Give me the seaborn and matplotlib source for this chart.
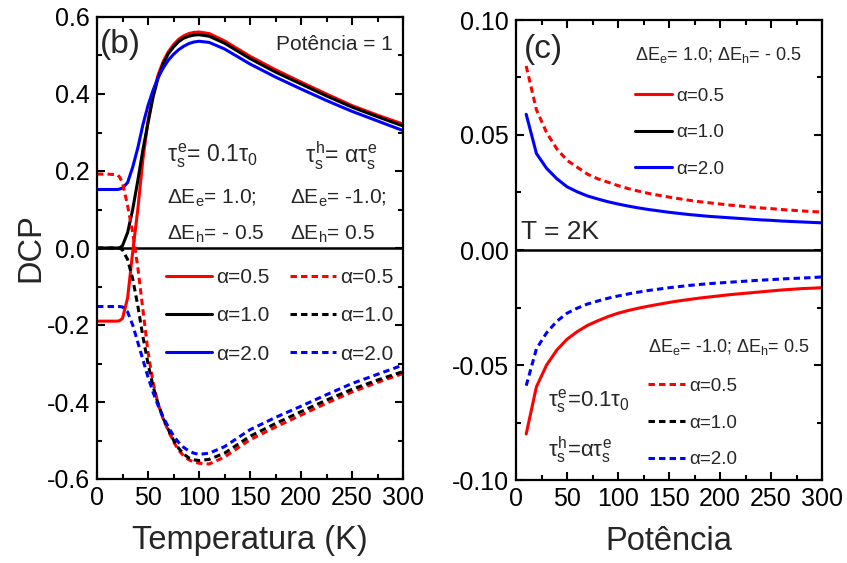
import matplotlib
matplotlib.use("Agg")
import matplotlib.pyplot as plt
from matplotlib.lines import Line2D
from matplotlib.ticker import MultipleLocator, FormatStrFormatter
import seaborn as sns
import pandas as pd

# ---------------- data: panel (b) ----------------
T = [0, 10, 20, 22, 25, 30, 35, 40, 45, 50, 55, 60, 65, 70, 75, 80, 85, 90, 95, 100,
     110, 125, 150, 175, 200, 225, 250, 275, 300]
red_solid_b = [-0.19, -0.19, -0.19, -0.189, -0.183, -0.13, -0.01, 0.10, 0.23, 0.33, 0.40,
               0.45, 0.485, 0.51, 0.528, 0.542, 0.551, 0.557, 0.56, 0.561, 0.557, 0.538,
               0.498, 0.463, 0.431, 0.40, 0.37, 0.345, 0.322]
black_solid_b = [0, 0, 0, 0.0, 0.006, 0.04, 0.10, 0.175, 0.255, 0.325, 0.392, 0.443,
                 0.479, 0.505, 0.522, 0.536, 0.545, 0.55, 0.553, 0.554, 0.55, 0.532,
                 0.492, 0.457, 0.426, 0.395, 0.366, 0.341, 0.317]
blue_solid_b = [0.152, 0.152, 0.152, 0.153, 0.156, 0.17, 0.21, 0.26, 0.32, 0.37, 0.41,
                0.443, 0.468, 0.488, 0.503, 0.515, 0.524, 0.531, 0.535, 0.537, 0.534,
                0.517, 0.478, 0.444, 0.413, 0.383, 0.355, 0.33, 0.305]
red_dash_b = [0.192, 0.192, 0.19, 0.185, 0.17, 0.11, 0.04, -0.05, -0.16, -0.27, -0.35,
              -0.405, -0.445, -0.475, -0.503, -0.525, -0.54, -0.55, -0.556, -0.559,
              -0.561, -0.543, -0.498, -0.465, -0.434, -0.403, -0.374, -0.349, -0.326]
black_dash_b = [0, 0, 0, 0, -0.005, -0.03, -0.08, -0.15, -0.23, -0.30, -0.36, -0.405,
                -0.443, -0.472, -0.499, -0.52, -0.535, -0.545, -0.55, -0.552, -0.549,
                -0.533, -0.489, -0.456, -0.425, -0.395, -0.367, -0.343, -0.321]
blue_dash_b = [-0.152, -0.152, -0.152, -0.152, -0.153, -0.166, -0.2, -0.245, -0.29,
               -0.335, -0.375, -0.41, -0.44, -0.465, -0.488, -0.505, -0.518, -0.527,
               -0.533, -0.536, -0.533, -0.516, -0.472, -0.44, -0.411, -0.381, -0.352,
               -0.328, -0.304]

# ---------------- data: panel (c) ----------------
P = [10, 20, 30, 40, 50, 60, 70, 80, 90, 100, 110, 120, 130, 140, 150, 160, 170, 180,
     190, 200, 210, 220, 230, 240, 250, 260, 270, 280, 290, 300]
red_dash_c = [0.080, 0.061, 0.051, 0.044, 0.039, 0.036, 0.033, 0.031, 0.0295, 0.028,
              0.0267, 0.0256, 0.0246, 0.0238, 0.023, 0.0223, 0.0216, 0.021, 0.0205,
              0.020, 0.0195, 0.0191, 0.0187, 0.0183, 0.018, 0.0176, 0.0173, 0.017,
              0.0167, 0.0165]
blue_solid_c = [0.059, 0.042, 0.0355, 0.031, 0.0275, 0.0253, 0.0235, 0.0222, 0.021,
                0.020, 0.0191, 0.0183, 0.0176, 0.017, 0.0164, 0.0159, 0.0154, 0.015,
                0.0146, 0.0143, 0.014, 0.0137, 0.0134, 0.0131, 0.0129, 0.0126, 0.0124,
                0.0122, 0.012, 0.0118]
red_solid_c = [-0.080, -0.0595, -0.050, -0.0435, -0.0388, -0.0355, -0.0328, -0.0308,
               -0.029, -0.0275, -0.0263, -0.0253, -0.0244, -0.0236, -0.0228, -0.0221,
               -0.0215, -0.0209, -0.0204, -0.0199, -0.0194, -0.019, -0.0186, -0.0182,
               -0.0178, -0.0174, -0.0171, -0.0168, -0.0166, -0.0164]
blue_dash_c = [-0.059, -0.043, -0.036, -0.031, -0.0275, -0.0253, -0.0235, -0.0222,
               -0.021, -0.020, -0.0191, -0.0183, -0.0176, -0.017, -0.0164, -0.0159,
               -0.0154, -0.015, -0.0146, -0.0143, -0.014, -0.0137, -0.0134, -0.0131,
               -0.0129, -0.0126, -0.0124, -0.0122, -0.012, -0.0117]

alpha_labels = ["α=0.5", "α=1.0", "α=2.0"]
colors = ["#ff0000", "#000000", "#0000ff"]

# ---------------- style ----------------
sns.set_style("ticks")
plt.rcParams["font.family"] = ["Liberation Sans", "DejaVu Sans"]
plt.rcParams["mathtext.fontset"] = "custom"
plt.rcParams["mathtext.rm"] = "Liberation Sans"
plt.rcParams["mathtext.it"] = "Liberation Sans"
plt.rcParams["mathtext.bf"] = "Liberation Sans:bold"
plt.rcParams["axes.unicode_minus"] = False

LW = 2.2
DASH = (0, (2.1, 1.35))

fig = plt.figure(figsize=(8.47, 5.63), dpi=100)
ax1 = fig.add_axes([97 / 847, 1 - 479 / 563, 306 / 847, 462 / 563])
ax2 = fig.add_axes([516 / 847, 1 - 480 / 563, 306 / 847, 460 / 563])

def style_axes(ax):
    for sp in ax.spines.values():
        sp.set_linewidth(1.6)
        sp.set_color("black")
        sp.set_visible(True)
    ax.tick_params(which="both", direction="in", top=True, right=True,
                   width=1.5, colors="black")
    ax.tick_params(which="major", length=6, labelsize=18, pad=5)
    ax.tick_params(which="minor", length=3.5)

# ---------------- panel (b) ----------------
dfb = pd.DataFrame({"T": T, "rs": red_solid_b, "ks": black_solid_b, "bs": blue_solid_b,
                    "rd": red_dash_b, "kd": black_dash_b, "bd": blue_dash_b})
ax1.axhline(0, color="black", lw=1.8, zorder=1)
for col, c in zip(["rs", "ks", "bs"], colors):
    sns.lineplot(data=dfb, x="T", y=col, color=c, lw=LW, ax=ax1, legend=False)
for col, c in zip(["rd", "kd", "bd"], colors):
    sns.lineplot(data=dfb, x="T", y=col, color=c, lw=LW, linestyle=DASH, ax=ax1,
                 legend=False)
ax1.set_xlim(0, 300)
ax1.set_ylim(-0.6, 0.6)
ax1.xaxis.set_major_locator(MultipleLocator(50))
ax1.xaxis.set_minor_locator(MultipleLocator(25))
ax1.yaxis.set_major_locator(MultipleLocator(0.2))
ax1.yaxis.set_minor_locator(MultipleLocator(0.1))
ax1.yaxis.set_major_formatter(FormatStrFormatter("%.1f"))
style_axes(ax1)
ax1.set_xlabel("Temperatura (K)", fontsize=23.5)
ax1.set_ylabel("DCP", fontsize=23.5)
ax1.xaxis.set_label_coords(0.5, -0.1)
ax1.yaxis.set_label_coords(-0.165, 0.5)

ax1.text(0.01, 0.94, "(b)", transform=ax1.transAxes, fontsize=24, va="center")
ax1.text(0.965, 0.94, "Potência = 1", transform=ax1.transAxes, fontsize=15,
         va="center", ha="right")
tfs = 15
ax1.text(0.23, 0.70, r"$\tau_s^e$= 0.1$\tau_0$", transform=ax1.transAxes, fontsize=16.5,
         va="center")
ax1.text(0.23, 0.607, r"$\Delta$E$_e$= 1.0;", transform=ax1.transAxes, fontsize=tfs,
         va="center")
ax1.text(0.23, 0.53, r"$\Delta$E$_h$= - 0.5", transform=ax1.transAxes, fontsize=tfs,
         va="center")
ax1.text(0.68, 0.70, r"$\tau_s^h$= $\alpha\tau_s^e$", transform=ax1.transAxes,
         fontsize=16.5, va="center")
ax1.text(0.63, 0.607, r"$\Delta$E$_e$= -1.0;", transform=ax1.transAxes, fontsize=tfs,
         va="center")
ax1.text(0.63, 0.53, r"$\Delta$E$_h$= 0.5", transform=ax1.transAxes, fontsize=tfs,
         va="center")

h_solid = [Line2D([], [], color=c, lw=LW) for c in colors]
h_dash = [Line2D([], [], color=c, lw=LW, linestyle=DASH) for c in colors]
leg_kw = dict(frameon=False, fontsize=15, handlelength=2.2, handletextpad=0.2,
              labelspacing=0.93, borderpad=0, borderaxespad=0, loc="center left")
lg1 = ax1.legend(h_solid, alpha_labels, bbox_to_anchor=(0.225, 0.353), **leg_kw)
ax1.add_artist(lg1)
ax1.legend(h_dash, alpha_labels, bbox_to_anchor=(0.63, 0.353), **leg_kw)

# ---------------- panel (c) ----------------
dfc = pd.DataFrame({"P": P, "rd": red_dash_c, "bs": blue_solid_c,
                    "rs": red_solid_c, "bd": blue_dash_c})
ax2.axhline(0, color="black", lw=1.8, zorder=1)
sns.lineplot(data=dfc, x="P", y="rd", color=colors[0], lw=LW, linestyle=DASH, ax=ax2,
             legend=False)
sns.lineplot(data=dfc, x="P", y="bs", color=colors[2], lw=LW, ax=ax2, legend=False)
sns.lineplot(data=dfc, x="P", y="rs", color=colors[0], lw=LW, ax=ax2, legend=False)
sns.lineplot(data=dfc, x="P", y="bd", color=colors[2], lw=LW, linestyle=DASH, ax=ax2,
             legend=False)
ax2.set_xlim(0, 300)
ax2.set_ylim(-0.10, 0.10)
ax2.xaxis.set_major_locator(MultipleLocator(50))
ax2.xaxis.set_minor_locator(MultipleLocator(25))
ax2.yaxis.set_major_locator(MultipleLocator(0.05))
ax2.yaxis.set_minor_locator(MultipleLocator(0.025))
ax2.yaxis.set_major_formatter(FormatStrFormatter("%.2f"))
style_axes(ax2)
ax2.set_xlabel("Potência", fontsize=23.5)
ax2.set_ylabel("")
ax2.xaxis.set_label_coords(0.5, -0.1)

ax2.text(0.025, 0.935, "(c)", transform=ax2.transAxes, fontsize=24, va="center")
ax2.text(0.015, 0.54, "T = 2K", transform=ax2.transAxes, fontsize=19, va="center")
ax2.text(0.388, 0.924, r"$\Delta$E$_e$= 1.0; $\Delta$E$_h$= - 0.5",
         transform=ax2.transAxes, fontsize=13, va="center")
ax2.text(0.43, 0.289, r"$\Delta$E$_e$= -1.0; $\Delta$E$_h$= 0.5",
         transform=ax2.transAxes, fontsize=13, va="center")
ax2.text(0.105, 0.172, r"$\tau_s^e$=0.1$\tau_0$", transform=ax2.transAxes, fontsize=16,
         va="center")
ax2.text(0.105, 0.065, r"$\tau_s^h$=$\alpha\tau_s^e$", transform=ax2.transAxes,
         fontsize=16, va="center")

leg_kw2 = dict(frameon=False, fontsize=13.5, handlelength=2.0, handletextpad=0.2,
               labelspacing=1.04, borderpad=0, borderaxespad=0, loc="center left")
lg2 = ax2.legend(h_solid, alpha_labels, bbox_to_anchor=(0.388, 0.755), **leg_kw2)
ax2.add_artist(lg2)
ax2.legend(h_dash, alpha_labels, bbox_to_anchor=(0.43, 0.124), **leg_kw2)

fig.savefig("out.png", dpi=100)
